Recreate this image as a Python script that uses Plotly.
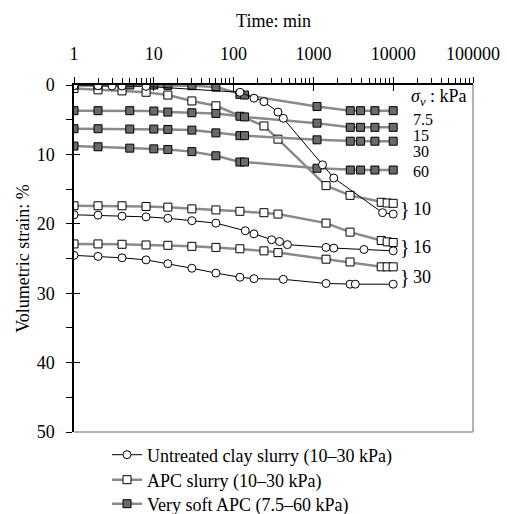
import plotly.graph_objects as go

# ---------------- data ----------------
# Very soft APC (7.5-60 kPa), time in minutes
vs_time = [1, 2, 5, 10, 15, 30, 60, 120, 137, 1110, 2900, 3900, 5900, 10000]
vs_7_5 = [0.0, 0.0, 0.0, 0.0, 0.05, 0.1, 0.3, 1.35, 1.45, 3.1, 3.7, 3.7, 3.7, 3.7]
vs_15 = [3.7, 3.7, 3.7, 3.75, 3.9, 4.0, 4.1, 4.5, 4.6, 5.5, 6.1, 6.1, 6.1, 6.1]
vs_30 = [6.3, 6.3, 6.35, 6.35, 6.4, 6.5, 6.9, 7.3, 7.3, 7.9, 8.1, 8.1, 8.1, 8.1]
vs_60 = [8.8, 8.9, 9.1, 9.2, 9.3, 9.6, 10.2, 11.1, 11.1, 12.0, 12.25, 12.25, 12.25, 12.25]

# APC slurry (10-30 kPa)
apc10_time = [1, 2, 4, 8, 15, 30, 60, 240, 360, 1440, 2880, 7080, 8400, 10000]
apc10 = [0.5, 0.7, 0.85, 1.05, 1.45, 2.3, 3.0, 5.9, 7.8, 14.5, 15.9, 16.9, 17.0, 17.05]
apc_time = [1, 2, 4, 8, 15, 30, 60, 120, 240, 360, 1440, 2880, 7080, 8400, 10000]
apc16 = [17.4, 17.4, 17.4, 17.5, 17.6, 17.85, 18.0, 18.2, 18.4, 18.6, 19.9, 21.2, 22.4, 22.6, 22.7]
apc30 = [22.9, 22.9, 22.95, 23.05, 23.1, 23.25, 23.4, 23.6, 23.9, 24.15, 25.1, 25.5, 26.2, 26.2, 26.2]

# Untreated clay slurry (10-30 kPa)
ut10_time = [1, 2, 3, 4, 8, 120, 180, 240, 360, 420, 1300, 1800, 7350, 10000]
ut10 = [0.1, 0.1, 0.15, 0.15, 0.2, 1.05, 1.9, 2.4, 3.9, 4.8, 11.5, 13.4, 18.4, 18.6]
ut16_time = [1, 2, 4, 8, 15, 30, 60, 140, 180, 300, 376, 473, 1440, 1800, 4300, 10000]
ut16 = [18.7, 18.75, 18.9, 19.0, 19.2, 19.55, 19.9, 21.0, 21.45, 22.3, 22.55, 23.0, 23.4, 23.5, 23.7, 23.9]
ut30_time = [1, 2, 4, 8, 15, 30, 60, 120, 180, 420, 1440, 2880, 3350, 10000]
ut30 = [24.55, 24.7, 24.9, 25.2, 25.75, 26.4, 27.1, 27.7, 27.9, 28.0, 28.6, 28.7, 28.7, 28.7]

x_tickvals = [1, 10, 100, 1000, 10000, 100000]
x_ticktext = ["1", "10", "100", "1000", "10000", "100000"]
y_tickvals = [0, 10, 20, 30, 40, 50]

stress_labels = ["7.5", "15", "30", "60"]
pair_labels = ["10", "16", "30"]

legend_names = ["Untreated clay slurry (10\u201330 kPa)", "APC slurry (10\u201330 kPa)",
                "Very soft APC (7.5\u201360 kPa)"]

# ---------------- styles ----------------
FONT = "Liberation Serif"
GREY = "#8a8a8a"
DARK = "#6a6a6a"
FS = 18

W, H = 507, 514
L, R, T, B = 74, 34, 85, 82
pw, ph = W - L - R, H - T - B

def px(xp):
    return (xp - L) / pw

def py(yp):
    return (H - B - yp) / ph

fig = go.Figure()

LEG = {"ut": "legend", "apc": "legend2", "vs": "legend3"}

def add(t, v, kind, show):
    if kind == "apc":
        line = dict(color=GREY, width=2.5)
        marker = dict(symbol="square", size=8, color="white", line=dict(color="black", width=1))
        name = legend_names[1]
    elif kind == "vs":
        line = dict(color=GREY, width=2.5)
        marker = dict(symbol="square", size=8, color=DARK, line=dict(color="black", width=1))
        name = legend_names[2]
    else:
        line = dict(color="black", width=1)
        marker = dict(symbol="circle", size=8, color="white", line=dict(color="black", width=1))
        name = legend_names[0]
    fig.add_trace(go.Scatter(x=t, y=v, mode="lines+markers", line=line, marker=marker,
                             name=name, showlegend=show, legend=LEG[kind]))

add(apc10_time, apc10, "apc", True)
add(apc_time, apc16, "apc", False)
add(apc_time, apc30, "apc", False)
add(vs_time, vs_7_5, "vs", True)
add(vs_time, vs_15, "vs", False)
add(vs_time, vs_30, "vs", False)
add(vs_time, vs_60, "vs", False)
add(ut10_time, ut10, "ut", True)
add(ut16_time, ut16, "ut", False)
add(ut30_time, ut30, "ut", False)

# invisible trace on the overlay axes so they render
fig.add_trace(go.Scatter(x=[1], y=[0], xaxis="x2", yaxis="y2", mode="markers",
                         marker=dict(opacity=0), showlegend=False, hoverinfo="skip"))

tickfont = dict(family=FONT, size=FS, color="black")

axis_common_x = dict(type="log", range=[0, 5], showgrid=False, zeroline=False, automargin=False)
axis_common_y = dict(range=[50, 0], showgrid=False, zeroline=False, automargin=False)

def leg(ypix):
    return dict(x=px(107), y=py(ypix), xanchor="left", yanchor="middle",
                font=dict(family=FONT, size=FS), itemwidth=30,
                bgcolor="rgba(0,0,0,0)")

fig.update_layout(
    width=W, height=H,
    margin=dict(l=L, r=R, t=T, b=B, autoexpand=False),
    paper_bgcolor="white", plot_bgcolor="white",
    font=dict(family=FONT, size=FS, color="black"),
    xaxis=dict(**axis_common_x, side="top", tickvals=x_tickvals, ticktext=x_ticktext,
               ticks="outside", ticklen=6, tickwidth=1, tickcolor="black",
               ticklabelstandoff=10,
               showline=True, linecolor="black", linewidth=1.5,
               minor=dict(ticks="outside", ticklen=5, tickwidth=1, tickcolor="black",
                          tickvals=[m * 10 ** d for d in range(5) for m in range(2, 10)]),
               tickfont=tickfont,
               title=dict(text="Time: min", font=dict(family=FONT, size=FS), standoff=12),
               anchor="y"),
    yaxis=dict(**axis_common_y, tickvals=y_tickvals,
               ticks="outside", ticklen=6, tickwidth=1, tickcolor="black",
               ticklabelstandoff=8,
               showline=True, linecolor="black", linewidth=1.5,
               minor=dict(ticks="outside", ticklen=6, tickwidth=1, tickcolor="black", dtick=5,
                          tick0=5),
               tickfont=tickfont,
               title=dict(text="Volumetric strain: %", font=dict(family=FONT, size=FS), standoff=2),
               anchor="x"),
    xaxis2=dict(**axis_common_x, overlaying="x", side="top", anchor="y2",
                tickvals=x_tickvals, ticks="inside", ticklen=6, tickwidth=1, tickcolor="black",
                showticklabels=False, showline=False),
    yaxis2=dict(**axis_common_y, overlaying="y", side="left", anchor="x2",
                tickvals=y_tickvals, ticks="inside", ticklen=6, tickwidth=1, tickcolor="black",
                showticklabels=False, showline=False),
    legend=leg(455),
    legend2=leg(480),
    legend3=leg(504),
    showlegend=True,
)

# grey frame on right and bottom
fig.add_shape(type="line", xref="paper", yref="paper", x0=1, x1=1, y0=0, y1=1,
              line=dict(color="#999999", width=1.5))
fig.add_shape(type="line", xref="paper", yref="paper", x0=0, x1=1, y0=0, y1=0,
              line=dict(color="#999999", width=1.5))

# right-side labels
fig.add_annotation(xref="paper", yref="paper", x=px(409), y=py(97), xanchor="left",
                   yanchor="middle", showarrow=False,
                   text="<i>\u03c3<sub>v</sub></i> : kPa", font=dict(family=FONT, size=FS))
for lab, ypix in zip(stress_labels, [119, 135, 151, 171]):
    fig.add_annotation(xref="paper", yref="paper", x=px(411), y=py(ypix), xanchor="left",
                       yanchor="middle", showarrow=False, text=lab,
                       font=dict(family=FONT, size=16))
for lab, ypix in zip(pair_labels, [209, 247, 277]):
    fig.add_annotation(xref="paper", yref="paper", x=px(398), y=py(ypix), xanchor="left",
                       yanchor="middle", showarrow=False, text="}",
                       font=dict(family=FONT, size=20))
    fig.add_annotation(xref="paper", yref="paper", x=px(411), y=py(ypix), xanchor="left",
                       yanchor="middle", showarrow=False, text=lab,
                       font=dict(family=FONT, size=FS))

fig.write_html("out.html", config={"displayModeBar": False},
               post_script="document.body.style.margin='0';")
